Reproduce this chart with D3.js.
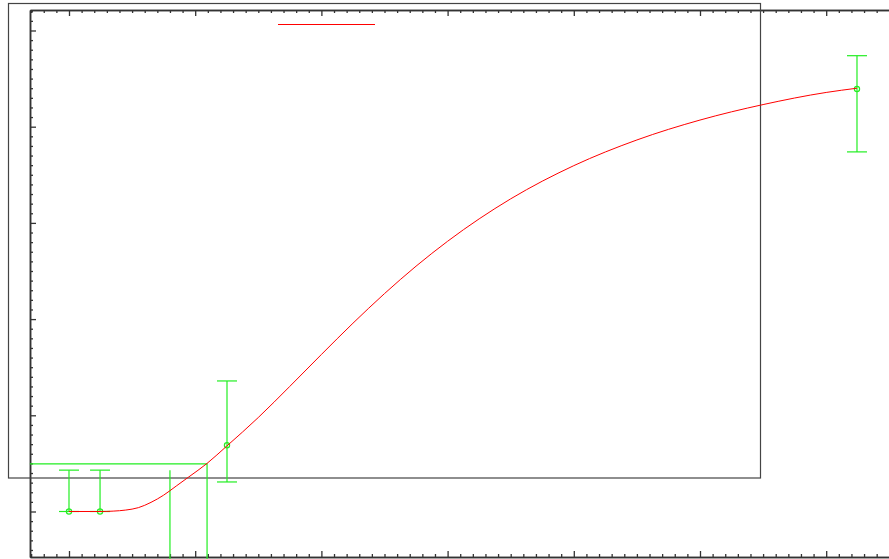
<!DOCTYPE html>
<html>
<head>
<meta charset="utf-8">
<script src="https://cdn.jsdelivr.net/npm/d3@7"></script>
<style>
  html, body { margin: 0; padding: 0; background: #fff; }
  svg { display: block; }
</style>
</head>
<body>
<script>
// ---------- data (in axis units) ----------
const xMajorTicks = [0, 1, 2, 3, 4, 5, 6];
const yMajorTicks = [0, 1, 2, 3, 4, 5];

// measured points with asymmetric error bars
const pointX  = [0.0, 0.246, 1.252, 6.244];
const pointY  = [0.0, 0.0, 0.688, 4.392];
const pointLo = [0.0, 0.0, 0.307, 3.738];
const pointHi = [0.43, 0.43, 1.357, 4.738];

// fitted curve
const fitX = [0.0, 0.246, 0.35, 0.45, 0.55, 0.65, 0.75, 0.85, 0.95, 1.094, 1.25,
              1.5, 1.75, 2.0, 2.25, 2.5, 2.75, 3.0, 3.5, 4.0, 4.5, 5.0, 5.5, 6.0, 6.244];
const fitY = [0.0, 0.0, 0.004, 0.015, 0.04, 0.095, 0.17, 0.265, 0.36, 0.50, 0.68,
              0.977, 1.301, 1.632, 1.957, 2.265, 2.550, 2.809, 3.250, 3.595, 3.862, 4.069, 4.230, 4.356, 4.40];

// extra green segments (partly off-range bars)
const stepX = [-0.31, 1.094, 1.094];
const stepY = [0.494, 0.494, -0.6];
const strayX = [0.800, 0.800];
const strayY = [0.43, -0.6];

const legendColors = ["#ff0000"];

// ---------- layout ----------
const W = 889, H = 559;
const green = "#22ee22", red = "#ff0000", axisCol = "#333";

const svg = d3.select("body").append("svg").attr("width", W).attr("height", H);

const x = d3.scaleLinear().domain([-0.309, 6.6]).range([30, 30 + 6.909 * 126.2]);
const y = d3.scaleLinear().domain([-0.473, 5.213]).range([557, 10]);

const xMinor = d3.range(-3, 67).map(i => i / 10).filter(v => !xMajorTicks.includes(v));
const yMinor = d3.range(-4, 53).map(i => i / 10).filter(v => !yMajorTicks.includes(v));

function axisG(gen, tx, ty) {
  const g = svg.append("g").attr("transform", `translate(${tx},${ty})`).call(gen);
  g.selectAll("text").remove();
  g.selectAll("line").attr("stroke", axisCol).attr("stroke-width", 1.3);
  g.select(".domain").attr("stroke", axisCol).attr("stroke-width", 1.5);
  return g;
}

// top axis (ticks downward)
axisG(d3.axisBottom(x).tickValues(xMajorTicks).tickSize(6).tickSizeOuter(0).tickFormat(""), 0, 10);
axisG(d3.axisBottom(x).tickValues(xMinor).tickSize(3).tickSizeOuter(0).tickFormat(""), 0, 10);
// bottom axis (ticks upward)
axisG(d3.axisTop(x).tickValues(xMajorTicks).tickSize(6).tickSizeOuter(0).tickFormat(""), 0, 557);
axisG(d3.axisTop(x).tickValues(xMinor).tickSize(3).tickSizeOuter(0).tickFormat(""), 0, 557);
// left axis (ticks inward)
axisG(d3.axisRight(y).tickValues(yMajorTicks).tickSize(6).tickSizeOuter(0).tickFormat(""), 30, 0);
axisG(d3.axisRight(y).tickValues(yMinor).tickSize(3).tickSizeOuter(0).tickFormat(""), 30, 0);

// key box
svg.append("rect").attr("x", 8.5).attr("y", 3.5).attr("width", 752).attr("height", 474.5)
  .attr("fill", "none").attr("stroke", "#444").attr("stroke-width", 1.2);

// green extras
const line = d3.line().x(d => x(d[0])).y(d => y(d[1]));
svg.append("path").attr("d", line(d3.zip(stepX, stepY)))
  .attr("fill", "none").attr("stroke", green).attr("stroke-width", 1.2);
svg.append("path").attr("d", line(d3.zip(strayX, strayY)))
  .attr("fill", "none").attr("stroke", green).attr("stroke-width", 1.2);

// error bars
const capW = 10;
const pts = pointX.map((v, i) => ({ x: v, y: pointY[i], lo: pointLo[i], hi: pointHi[i] }));
const eb = svg.append("g").attr("stroke", green).attr("stroke-width", 1.2).attr("fill", "none");
pts.forEach(p => {
  const cx = x(p.x);
  eb.append("line").attr("x1", cx).attr("x2", cx).attr("y1", y(p.lo)).attr("y2", y(p.hi));
  eb.append("line").attr("x1", cx - capW).attr("x2", cx + capW).attr("y1", y(p.lo)).attr("y2", y(p.lo));
  eb.append("line").attr("x1", cx - capW).attr("x2", cx + capW).attr("y1", y(p.hi)).attr("y2", y(p.hi));
  eb.append("circle").attr("cx", cx).attr("cy", y(p.y)).attr("r", 2.6);
});

// fit curve
svg.append("path")
  .attr("d", d3.line().x(d => x(d[0])).y(d => y(d[1])).curve(d3.curveMonotoneX)(d3.zip(fitX, fitY)))
  .attr("fill", "none").attr("stroke", red).attr("stroke-width", 1);

// legend sample
legendColors.forEach((c, i) => {
  svg.append("line").attr("x1", 278).attr("x2", 375).attr("y1", 24.5 + i * 14).attr("y2", 24.5 + i * 14)
    .attr("stroke", c).attr("stroke-width", 1.2);
});
</script>
</body>
</html>
